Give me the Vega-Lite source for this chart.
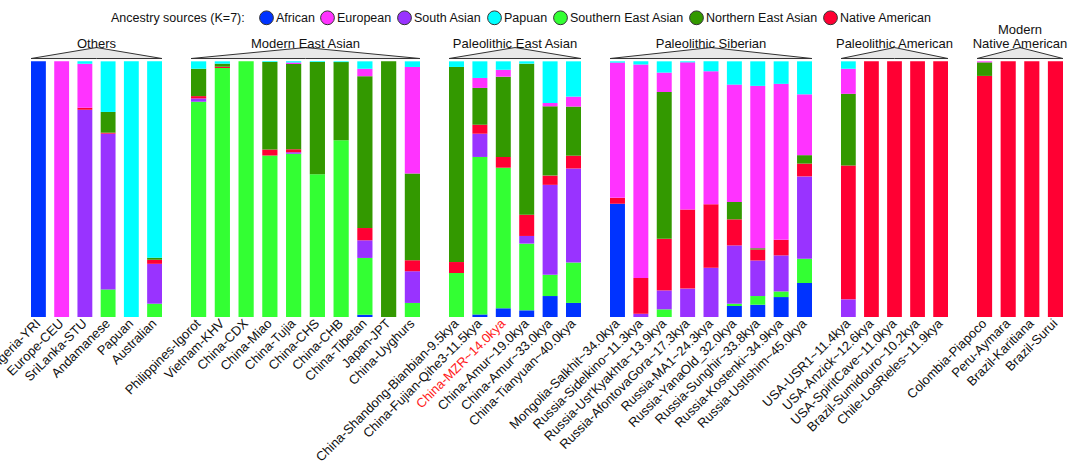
{
  "$schema": "https://vega.github.io/schema/vega-lite/v6.json",
  "padding": {"left": -14, "top": 10, "right": 5, "bottom": 5},
  "background": "white",
  "bounds": "flush",
  "datasets": {
    "tri": [
      {"tx": 0, "ty": 1.011, "base": 1.011},
      {"tx": 0.5, "ty": 1.054, "base": 1.011},
      {"tx": 1, "ty": 1.011, "base": 1.011}
    ],
    "bars": [
      {"group": "Others", "pop": "Nigeria-YRI", "source": "African", "value": 1.0},
      {"group": "Others", "pop": "Europe-CEU", "source": "European", "value": 1.0},
      {"group": "Others", "pop": "SriLanka-STU", "source": "South Asian", "value": 0.811},
      {"group": "Others", "pop": "SriLanka-STU", "source": "Native American", "value": 0.007},
      {"group": "Others", "pop": "SriLanka-STU", "source": "European", "value": 0.173},
      {"group": "Others", "pop": "SriLanka-STU", "source": "Papuan", "value": 0.009},
      {"group": "Others", "pop": "Andamanese", "source": "Southern East Asian", "value": 0.108},
      {"group": "Others", "pop": "Andamanese", "source": "South Asian", "value": 0.609},
      {"group": "Others", "pop": "Andamanese", "source": "Native American", "value": 0.004},
      {"group": "Others", "pop": "Andamanese", "source": "Northern East Asian", "value": 0.081},
      {"group": "Others", "pop": "Andamanese", "source": "Papuan", "value": 0.198},
      {"group": "Others", "pop": "Papuan", "source": "Papuan", "value": 1.0},
      {"group": "Others", "pop": "Australian", "source": "Southern East Asian", "value": 0.052},
      {"group": "Others", "pop": "Australian", "source": "South Asian", "value": 0.156},
      {"group": "Others", "pop": "Australian", "source": "Native American", "value": 0.016},
      {"group": "Others", "pop": "Australian", "source": "Northern East Asian", "value": 0.008},
      {"group": "Others", "pop": "Australian", "source": "Papuan", "value": 0.768},

      {"group": "Modern East Asian", "pop": "Philippines-Igorot", "source": "Southern East Asian", "value": 0.842},
      {"group": "Modern East Asian", "pop": "Philippines-Igorot", "source": "South Asian", "value": 0.013},
      {"group": "Modern East Asian", "pop": "Philippines-Igorot", "source": "Native American", "value": 0.009},
      {"group": "Modern East Asian", "pop": "Philippines-Igorot", "source": "Northern East Asian", "value": 0.107},
      {"group": "Modern East Asian", "pop": "Philippines-Igorot", "source": "Papuan", "value": 0.029},
      {"group": "Modern East Asian", "pop": "Vietnam-KHV", "source": "Southern East Asian", "value": 0.974},
      {"group": "Modern East Asian", "pop": "Vietnam-KHV", "source": "Native American", "value": 0.005},
      {"group": "Modern East Asian", "pop": "Vietnam-KHV", "source": "Northern East Asian", "value": 0.012},
      {"group": "Modern East Asian", "pop": "Vietnam-KHV", "source": "Papuan", "value": 0.009},
      {"group": "Modern East Asian", "pop": "China-CDX", "source": "Southern East Asian", "value": 1.0},
      {"group": "Modern East Asian", "pop": "China-Miao", "source": "Southern East Asian", "value": 0.632},
      {"group": "Modern East Asian", "pop": "China-Miao", "source": "Native American", "value": 0.023},
      {"group": "Modern East Asian", "pop": "China-Miao", "source": "Northern East Asian", "value": 0.342},
      {"group": "Modern East Asian", "pop": "China-Miao", "source": "Papuan", "value": 0.003},
      {"group": "Modern East Asian", "pop": "China-Tujia", "source": "Southern East Asian", "value": 0.639},
      {"group": "Modern East Asian", "pop": "China-Tujia", "source": "South Asian", "value": 0.005},
      {"group": "Modern East Asian", "pop": "China-Tujia", "source": "Native American", "value": 0.012},
      {"group": "Modern East Asian", "pop": "China-Tujia", "source": "Northern East Asian", "value": 0.334},
      {"group": "Modern East Asian", "pop": "China-Tujia", "source": "European", "value": 0.005},
      {"group": "Modern East Asian", "pop": "China-Tujia", "source": "Papuan", "value": 0.005},
      {"group": "Modern East Asian", "pop": "China-CHS", "source": "Southern East Asian", "value": 0.558},
      {"group": "Modern East Asian", "pop": "China-CHS", "source": "Northern East Asian", "value": 0.439},
      {"group": "Modern East Asian", "pop": "China-CHS", "source": "Papuan", "value": 0.003},
      {"group": "Modern East Asian", "pop": "China-CHB", "source": "Southern East Asian", "value": 0.691},
      {"group": "Modern East Asian", "pop": "China-CHB", "source": "Northern East Asian", "value": 0.306},
      {"group": "Modern East Asian", "pop": "China-CHB", "source": "Papuan", "value": 0.003},
      {"group": "Modern East Asian", "pop": "China-Tibetan", "source": "African", "value": 0.009},
      {"group": "Modern East Asian", "pop": "China-Tibetan", "source": "Southern East Asian", "value": 0.222},
      {"group": "Modern East Asian", "pop": "China-Tibetan", "source": "South Asian", "value": 0.069},
      {"group": "Modern East Asian", "pop": "China-Tibetan", "source": "Native American", "value": 0.048},
      {"group": "Modern East Asian", "pop": "China-Tibetan", "source": "Northern East Asian", "value": 0.594},
      {"group": "Modern East Asian", "pop": "China-Tibetan", "source": "European", "value": 0.029},
      {"group": "Modern East Asian", "pop": "China-Tibetan", "source": "Papuan", "value": 0.029},
      {"group": "Modern East Asian", "pop": "Japan-JPT", "source": "Northern East Asian", "value": 1.0},
      {"group": "Modern East Asian", "pop": "China-Uyghurs", "source": "Southern East Asian", "value": 0.055},
      {"group": "Modern East Asian", "pop": "China-Uyghurs", "source": "South Asian", "value": 0.124},
      {"group": "Modern East Asian", "pop": "China-Uyghurs", "source": "Native American", "value": 0.043},
      {"group": "Modern East Asian", "pop": "China-Uyghurs", "source": "Northern East Asian", "value": 0.339},
      {"group": "Modern East Asian", "pop": "China-Uyghurs", "source": "European", "value": 0.417},
      {"group": "Modern East Asian", "pop": "China-Uyghurs", "source": "Papuan", "value": 0.022},

      {"group": "Paleolithic East Asian", "pop": "China-Shandong-Bianbian-9.5kya", "source": "Southern East Asian", "value": 0.172},
      {"group": "Paleolithic East Asian", "pop": "China-Shandong-Bianbian-9.5kya", "source": "Native American", "value": 0.043},
      {"group": "Paleolithic East Asian", "pop": "China-Shandong-Bianbian-9.5kya", "source": "Northern East Asian", "value": 0.763},
      {"group": "Paleolithic East Asian", "pop": "China-Shandong-Bianbian-9.5kya", "source": "Papuan", "value": 0.022},
      {"group": "Paleolithic East Asian", "pop": "China-Fujian-Qihe3-11.5kya", "source": "African", "value": 0.01},
      {"group": "Paleolithic East Asian", "pop": "China-Fujian-Qihe3-11.5kya", "source": "Southern East Asian", "value": 0.616},
      {"group": "Paleolithic East Asian", "pop": "China-Fujian-Qihe3-11.5kya", "source": "South Asian", "value": 0.091},
      {"group": "Paleolithic East Asian", "pop": "China-Fujian-Qihe3-11.5kya", "source": "Native American", "value": 0.035},
      {"group": "Paleolithic East Asian", "pop": "China-Fujian-Qihe3-11.5kya", "source": "Northern East Asian", "value": 0.144},
      {"group": "Paleolithic East Asian", "pop": "China-Fujian-Qihe3-11.5kya", "source": "European", "value": 0.039},
      {"group": "Paleolithic East Asian", "pop": "China-Fujian-Qihe3-11.5kya", "source": "Papuan", "value": 0.065},
      {"group": "Paleolithic East Asian", "pop": "China-MZR~14.0kya", "source": "African", "value": 0.034},
      {"group": "Paleolithic East Asian", "pop": "China-MZR~14.0kya", "source": "Southern East Asian", "value": 0.55},
      {"group": "Paleolithic East Asian", "pop": "China-MZR~14.0kya", "source": "Native American", "value": 0.042},
      {"group": "Paleolithic East Asian", "pop": "China-MZR~14.0kya", "source": "Northern East Asian", "value": 0.314},
      {"group": "Paleolithic East Asian", "pop": "China-MZR~14.0kya", "source": "European", "value": 0.027},
      {"group": "Paleolithic East Asian", "pop": "China-MZR~14.0kya", "source": "Papuan", "value": 0.033},
      {"group": "Paleolithic East Asian", "pop": "China-Amur~19.0kya", "source": "African", "value": 0.026},
      {"group": "Paleolithic East Asian", "pop": "China-Amur~19.0kya", "source": "Southern East Asian", "value": 0.261},
      {"group": "Paleolithic East Asian", "pop": "China-Amur~19.0kya", "source": "South Asian", "value": 0.03},
      {"group": "Paleolithic East Asian", "pop": "China-Amur~19.0kya", "source": "Native American", "value": 0.083},
      {"group": "Paleolithic East Asian", "pop": "China-Amur~19.0kya", "source": "Northern East Asian", "value": 0.591},
      {"group": "Paleolithic East Asian", "pop": "China-Amur~19.0kya", "source": "Papuan", "value": 0.009},
      {"group": "Paleolithic East Asian", "pop": "China-Amur~33.0kya", "source": "African", "value": 0.082},
      {"group": "Paleolithic East Asian", "pop": "China-Amur~33.0kya", "source": "Southern East Asian", "value": 0.083},
      {"group": "Paleolithic East Asian", "pop": "China-Amur~33.0kya", "source": "South Asian", "value": 0.352},
      {"group": "Paleolithic East Asian", "pop": "China-Amur~33.0kya", "source": "Native American", "value": 0.036},
      {"group": "Paleolithic East Asian", "pop": "China-Amur~33.0kya", "source": "Northern East Asian", "value": 0.271},
      {"group": "Paleolithic East Asian", "pop": "China-Amur~33.0kya", "source": "European", "value": 0.013},
      {"group": "Paleolithic East Asian", "pop": "China-Amur~33.0kya", "source": "Papuan", "value": 0.163},
      {"group": "Paleolithic East Asian", "pop": "China-Tianyuan~40.0kya", "source": "African", "value": 0.055},
      {"group": "Paleolithic East Asian", "pop": "China-Tianyuan~40.0kya", "source": "Southern East Asian", "value": 0.158},
      {"group": "Paleolithic East Asian", "pop": "China-Tianyuan~40.0kya", "source": "South Asian", "value": 0.368},
      {"group": "Paleolithic East Asian", "pop": "China-Tianyuan~40.0kya", "source": "Native American", "value": 0.05},
      {"group": "Paleolithic East Asian", "pop": "China-Tianyuan~40.0kya", "source": "Northern East Asian", "value": 0.192},
      {"group": "Paleolithic East Asian", "pop": "China-Tianyuan~40.0kya", "source": "European", "value": 0.039},
      {"group": "Paleolithic East Asian", "pop": "China-Tianyuan~40.0kya", "source": "Papuan", "value": 0.138},

      {"group": "Paleolithic Siberian", "pop": "Mongolia-Salkhit~34.0kya", "source": "African", "value": 0.443},
      {"group": "Paleolithic Siberian", "pop": "Mongolia-Salkhit~34.0kya", "source": "Native American", "value": 0.023},
      {"group": "Paleolithic Siberian", "pop": "Mongolia-Salkhit~34.0kya", "source": "European", "value": 0.529},
      {"group": "Paleolithic Siberian", "pop": "Mongolia-Salkhit~34.0kya", "source": "Papuan", "value": 0.005},
      {"group": "Paleolithic Siberian", "pop": "Russia-Sidelkino~11.3kya", "source": "South Asian", "value": 0.013},
      {"group": "Paleolithic Siberian", "pop": "Russia-Sidelkino~11.3kya", "source": "Native American", "value": 0.14},
      {"group": "Paleolithic Siberian", "pop": "Russia-Sidelkino~11.3kya", "source": "European", "value": 0.835},
      {"group": "Paleolithic Siberian", "pop": "Russia-Sidelkino~11.3kya", "source": "Papuan", "value": 0.012},
      {"group": "Paleolithic Siberian", "pop": "Russia-Ust'Kyakhta~13.9kya", "source": "Southern East Asian", "value": 0.03},
      {"group": "Paleolithic Siberian", "pop": "Russia-Ust'Kyakhta~13.9kya", "source": "South Asian", "value": 0.074},
      {"group": "Paleolithic Siberian", "pop": "Russia-Ust'Kyakhta~13.9kya", "source": "Native American", "value": 0.202},
      {"group": "Paleolithic Siberian", "pop": "Russia-Ust'Kyakhta~13.9kya", "source": "Northern East Asian", "value": 0.574},
      {"group": "Paleolithic Siberian", "pop": "Russia-Ust'Kyakhta~13.9kya", "source": "European", "value": 0.076},
      {"group": "Paleolithic Siberian", "pop": "Russia-Ust'Kyakhta~13.9kya", "source": "Papuan", "value": 0.044},
      {"group": "Paleolithic Siberian", "pop": "Russia-AfontovaGora~17.3kya", "source": "South Asian", "value": 0.111},
      {"group": "Paleolithic Siberian", "pop": "Russia-AfontovaGora~17.3kya", "source": "Native American", "value": 0.309},
      {"group": "Paleolithic Siberian", "pop": "Russia-AfontovaGora~17.3kya", "source": "European", "value": 0.576},
      {"group": "Paleolithic Siberian", "pop": "Russia-AfontovaGora~17.3kya", "source": "Papuan", "value": 0.004},
      {"group": "Paleolithic Siberian", "pop": "Russia-MA1~24.3kya", "source": "South Asian", "value": 0.193},
      {"group": "Paleolithic Siberian", "pop": "Russia-MA1~24.3kya", "source": "Native American", "value": 0.248},
      {"group": "Paleolithic Siberian", "pop": "Russia-MA1~24.3kya", "source": "European", "value": 0.52},
      {"group": "Paleolithic Siberian", "pop": "Russia-MA1~24.3kya", "source": "Papuan", "value": 0.039},
      {"group": "Paleolithic Siberian", "pop": "Russia-YanaOld_32.0kya", "source": "African", "value": 0.043},
      {"group": "Paleolithic Siberian", "pop": "Russia-YanaOld_32.0kya", "source": "Southern East Asian", "value": 0.009},
      {"group": "Paleolithic Siberian", "pop": "Russia-YanaOld_32.0kya", "source": "South Asian", "value": 0.228},
      {"group": "Paleolithic Siberian", "pop": "Russia-YanaOld_32.0kya", "source": "Native American", "value": 0.102},
      {"group": "Paleolithic Siberian", "pop": "Russia-YanaOld_32.0kya", "source": "Northern East Asian", "value": 0.068},
      {"group": "Paleolithic Siberian", "pop": "Russia-YanaOld_32.0kya", "source": "European", "value": 0.459},
      {"group": "Paleolithic Siberian", "pop": "Russia-YanaOld_32.0kya", "source": "Papuan", "value": 0.091},
      {"group": "Paleolithic Siberian", "pop": "Russia-Sunghir~33.8kya", "source": "African", "value": 0.048},
      {"group": "Paleolithic Siberian", "pop": "Russia-Sunghir~33.8kya", "source": "Southern East Asian", "value": 0.034},
      {"group": "Paleolithic Siberian", "pop": "Russia-Sunghir~33.8kya", "source": "South Asian", "value": 0.139},
      {"group": "Paleolithic Siberian", "pop": "Russia-Sunghir~33.8kya", "source": "Native American", "value": 0.043},
      {"group": "Paleolithic Siberian", "pop": "Russia-Sunghir~33.8kya", "source": "Northern East Asian", "value": 0.005},
      {"group": "Paleolithic Siberian", "pop": "Russia-Sunghir~33.8kya", "source": "European", "value": 0.635},
      {"group": "Paleolithic Siberian", "pop": "Russia-Sunghir~33.8kya", "source": "Papuan", "value": 0.096},
      {"group": "Paleolithic Siberian", "pop": "Russia-Kostenki~34.9kya", "source": "African", "value": 0.078},
      {"group": "Paleolithic Siberian", "pop": "Russia-Kostenki~34.9kya", "source": "Southern East Asian", "value": 0.022},
      {"group": "Paleolithic Siberian", "pop": "Russia-Kostenki~34.9kya", "source": "South Asian", "value": 0.141},
      {"group": "Paleolithic Siberian", "pop": "Russia-Kostenki~34.9kya", "source": "Native American", "value": 0.061},
      {"group": "Paleolithic Siberian", "pop": "Russia-Kostenki~34.9kya", "source": "European", "value": 0.61},
      {"group": "Paleolithic Siberian", "pop": "Russia-Kostenki~34.9kya", "source": "Papuan", "value": 0.088},
      {"group": "Paleolithic Siberian", "pop": "Russia-UstIshim~45.0kya", "source": "African", "value": 0.133},
      {"group": "Paleolithic Siberian", "pop": "Russia-UstIshim~45.0kya", "source": "Southern East Asian", "value": 0.095},
      {"group": "Paleolithic Siberian", "pop": "Russia-UstIshim~45.0kya", "source": "South Asian", "value": 0.322},
      {"group": "Paleolithic Siberian", "pop": "Russia-UstIshim~45.0kya", "source": "Native American", "value": 0.05},
      {"group": "Paleolithic Siberian", "pop": "Russia-UstIshim~45.0kya", "source": "Northern East Asian", "value": 0.033},
      {"group": "Paleolithic Siberian", "pop": "Russia-UstIshim~45.0kya", "source": "European", "value": 0.238},
      {"group": "Paleolithic Siberian", "pop": "Russia-UstIshim~45.0kya", "source": "Papuan", "value": 0.129},

      {"group": "Paleolithic American", "pop": "USA-USR1~11.4kya", "source": "South Asian", "value": 0.069},
      {"group": "Paleolithic American", "pop": "USA-USR1~11.4kya", "source": "Native American", "value": 0.524},
      {"group": "Paleolithic American", "pop": "USA-USR1~11.4kya", "source": "Northern East Asian", "value": 0.28},
      {"group": "Paleolithic American", "pop": "USA-USR1~11.4kya", "source": "European", "value": 0.098},
      {"group": "Paleolithic American", "pop": "USA-USR1~11.4kya", "source": "Papuan", "value": 0.029},
      {"group": "Paleolithic American", "pop": "USA-Anzick~12.6kya", "source": "Native American", "value": 1.0},
      {"group": "Paleolithic American", "pop": "USA-SpiritCave~11.0kya", "source": "Native American", "value": 1.0},
      {"group": "Paleolithic American", "pop": "Brazil-Sumidouro~10.2kya", "source": "Native American", "value": 1.0},
      {"group": "Paleolithic American", "pop": "Chile-LosRieles~11.9kya", "source": "Native American", "value": 1.0},

      {"group": "Modern Native American", "pop": "Colombia-Piapoco", "source": "Native American", "value": 0.943},
      {"group": "Modern Native American", "pop": "Colombia-Piapoco", "source": "Northern East Asian", "value": 0.053},
      {"group": "Modern Native American", "pop": "Colombia-Piapoco", "source": "European", "value": 0.004},
      {"group": "Modern Native American", "pop": "Peru-Aymara", "source": "Native American", "value": 1.0},
      {"group": "Modern Native American", "pop": "Brazil-Karitiana", "source": "Native American", "value": 1.0},
      {"group": "Modern Native American", "pop": "Brazil-Surui", "source": "Native American", "value": 1.0}
    ]
  },
  "spacing": 29,
  "hconcat": [
    {
      "width": 131, "height": 271,
      "title": "Others",
      "layer": [
        {
          "data": {"name": "bars"},
          "transform": [
            {"filter": "datum.group == 'Others'"},
            {"calculate": "indexof(['African','Southern East Asian','South Asian','Native American','Northern East Asian','European','Papuan'], datum.source)", "as": "ord"}
          ],
          "mark": {"type": "bar"},
          "encoding": {
            "x": {"field": "pop", "type": "nominal", "sort": ["Nigeria-YRI", "Europe-CEU", "SriLanka-STU", "Andamanese", "Papuan", "Australian"], "scale": {"paddingInner": 0.36, "paddingOuter": 0}, "axis": {"title": null}},
            "y": {"field": "value", "type": "quantitative", "stack": "zero", "scale": {"domain": [0, 1.06], "nice": false, "zero": true}, "axis": null},
            "color": {
              "field": "source", "type": "nominal",
              "scale": {"domain": ["African", "European", "South Asian", "Papuan", "Southern East Asian", "Northern East Asian", "Native American"], "range": ["#0033ff", "#ff33ff", "#9933ff", "#00ffff", "#33ff33", "#339900", "#ff0033"]},
              "legend": {"title": "Ancestry sources (K=7):", "orient": "none", "legendX": 80, "legendY": -36, "direction": "horizontal", "titleOrient": "left"}
            },
            "order": {"field": "ord", "type": "quantitative"}
          }
        },
        {
          "data": {"name": "tri"},
          "mark": {"type": "area", "fill": "#e8e8e8", "stroke": "#333333", "strokeWidth": 1},
          "encoding": {
            "x": {"field": "tx", "type": "quantitative", "scale": {"domain": [0, 1], "nice": false, "zero": false}, "axis": null},
            "y": {"field": "ty", "type": "quantitative", "scale": {"domain": [0, 1.06], "nice": false}, "axis": null},
            "y2": {"field": "base"}
          }
        }
      ],
      "resolve": {"scale": {"x": "independent"}}
    },
    {
      "width": 229, "height": 271,
      "title": "Modern East Asian",
      "layer": [
        {
          "data": {"name": "bars"},
          "transform": [
            {"filter": "datum.group == 'Modern East Asian'"},
            {"calculate": "indexof(['African','Southern East Asian','South Asian','Native American','Northern East Asian','European','Papuan'], datum.source)", "as": "ord"}
          ],
          "mark": {"type": "bar"},
          "encoding": {
            "x": {"field": "pop", "type": "nominal", "sort": ["Philippines-Igorot", "Vietnam-KHV", "China-CDX", "China-Miao", "China-Tujia", "China-CHS", "China-CHB", "China-Tibetan", "Japan-JPT", "China-Uyghurs"], "scale": {"paddingInner": 0.36, "paddingOuter": 0}, "axis": {"title": null}},
            "y": {"field": "value", "type": "quantitative", "stack": "zero", "scale": {"domain": [0, 1.06], "nice": false}, "axis": null},
            "color": {"field": "source", "type": "nominal"},
            "order": {"field": "ord", "type": "quantitative"}
          }
        },
        {
          "data": {"name": "tri"},
          "mark": {"type": "area", "fill": "#e8e8e8", "stroke": "#333333", "strokeWidth": 1},
          "encoding": {
            "x": {"field": "tx", "type": "quantitative", "scale": {"domain": [0, 1], "nice": false, "zero": false}, "axis": null},
            "y": {"field": "ty", "type": "quantitative", "scale": {"domain": [0, 1.06], "nice": false}, "axis": null},
            "y2": {"field": "base"}
          }
        }
      ],
      "resolve": {"scale": {"x": "independent"}}
    },
    {
      "width": 132, "height": 271,
      "title": "Paleolithic East Asian",
      "layer": [
        {
          "data": {"name": "bars"},
          "transform": [
            {"filter": "datum.group == 'Paleolithic East Asian'"},
            {"calculate": "indexof(['African','Southern East Asian','South Asian','Native American','Northern East Asian','European','Papuan'], datum.source)", "as": "ord"}
          ],
          "mark": {"type": "bar"},
          "encoding": {
            "x": {"field": "pop", "type": "nominal", "sort": ["China-Shandong-Bianbian-9.5kya", "China-Fujian-Qihe3-11.5kya", "China-MZR~14.0kya", "China-Amur~19.0kya", "China-Amur~33.0kya", "China-Tianyuan~40.0kya"], "scale": {"paddingInner": 0.36, "paddingOuter": 0},
              "axis": {"title": null, "labelColor": {"condition": {"test": "datum.value == 'China-MZR~14.0kya'", "value": "#ff1a1a"}, "value": "#111111"}}},
            "y": {"field": "value", "type": "quantitative", "stack": "zero", "scale": {"domain": [0, 1.06], "nice": false}, "axis": null},
            "color": {"field": "source", "type": "nominal"},
            "order": {"field": "ord", "type": "quantitative"}
          }
        },
        {
          "data": {"name": "tri"},
          "mark": {"type": "area", "fill": "#e8e8e8", "stroke": "#333333", "strokeWidth": 1},
          "encoding": {
            "x": {"field": "tx", "type": "quantitative", "scale": {"domain": [0, 1], "nice": false, "zero": false}, "axis": null},
            "y": {"field": "ty", "type": "quantitative", "scale": {"domain": [0, 1.06], "nice": false}, "axis": null},
            "y2": {"field": "base"}
          }
        }
      ],
      "resolve": {"scale": {"x": "independent"}}
    },
    {
      "width": 202, "height": 271,
      "title": "Paleolithic Siberian",
      "layer": [
        {
          "data": {"name": "bars"},
          "transform": [
            {"filter": "datum.group == 'Paleolithic Siberian'"},
            {"calculate": "indexof(['African','Southern East Asian','South Asian','Native American','Northern East Asian','European','Papuan'], datum.source)", "as": "ord"}
          ],
          "mark": {"type": "bar"},
          "encoding": {
            "x": {"field": "pop", "type": "nominal", "sort": ["Mongolia-Salkhit~34.0kya", "Russia-Sidelkino~11.3kya", "Russia-Ust'Kyakhta~13.9kya", "Russia-AfontovaGora~17.3kya", "Russia-MA1~24.3kya", "Russia-YanaOld_32.0kya", "Russia-Sunghir~33.8kya", "Russia-Kostenki~34.9kya", "Russia-UstIshim~45.0kya"], "scale": {"paddingInner": 0.36, "paddingOuter": 0}, "axis": {"title": null}},
            "y": {"field": "value", "type": "quantitative", "stack": "zero", "scale": {"domain": [0, 1.06], "nice": false}, "axis": null},
            "color": {"field": "source", "type": "nominal"},
            "order": {"field": "ord", "type": "quantitative"}
          }
        },
        {
          "data": {"name": "tri"},
          "mark": {"type": "area", "fill": "#e8e8e8", "stroke": "#333333", "strokeWidth": 1},
          "encoding": {
            "x": {"field": "tx", "type": "quantitative", "scale": {"domain": [0, 1], "nice": false, "zero": false}, "axis": null},
            "y": {"field": "ty", "type": "quantitative", "scale": {"domain": [0, 1.06], "nice": false}, "axis": null},
            "y2": {"field": "base"}
          }
        }
      ],
      "resolve": {"scale": {"x": "independent"}}
    },
    {
      "width": 107, "height": 271,
      "title": "Paleolithic American",
      "layer": [
        {
          "data": {"name": "bars"},
          "transform": [
            {"filter": "datum.group == 'Paleolithic American'"},
            {"calculate": "indexof(['African','Southern East Asian','South Asian','Native American','Northern East Asian','European','Papuan'], datum.source)", "as": "ord"}
          ],
          "mark": {"type": "bar"},
          "encoding": {
            "x": {"field": "pop", "type": "nominal", "sort": ["USA-USR1~11.4kya", "USA-Anzick~12.6kya", "USA-SpiritCave~11.0kya", "Brazil-Sumidouro~10.2kya", "Chile-LosRieles~11.9kya"], "scale": {"paddingInner": 0.36, "paddingOuter": 0}, "axis": {"title": null}},
            "y": {"field": "value", "type": "quantitative", "stack": "zero", "scale": {"domain": [0, 1.06], "nice": false}, "axis": null},
            "color": {"field": "source", "type": "nominal"},
            "order": {"field": "ord", "type": "quantitative"}
          }
        },
        {
          "data": {"name": "tri"},
          "mark": {"type": "area", "fill": "#e8e8e8", "stroke": "#333333", "strokeWidth": 1},
          "encoding": {
            "x": {"field": "tx", "type": "quantitative", "scale": {"domain": [0, 1], "nice": false, "zero": false}, "axis": null},
            "y": {"field": "ty", "type": "quantitative", "scale": {"domain": [0, 1.06], "nice": false}, "axis": null},
            "y2": {"field": "base"}
          }
        }
      ],
      "resolve": {"scale": {"x": "independent"}}
    },
    {
      "width": 86, "height": 271,
      "title": {"text": ["Modern", "Native American"]},
      "layer": [
        {
          "data": {"name": "bars"},
          "transform": [
            {"filter": "datum.group == 'Modern Native American'"},
            {"calculate": "indexof(['African','Southern East Asian','South Asian','Native American','Northern East Asian','European','Papuan'], datum.source)", "as": "ord"}
          ],
          "mark": {"type": "bar"},
          "encoding": {
            "x": {"field": "pop", "type": "nominal", "sort": ["Colombia-Piapoco", "Peru-Aymara", "Brazil-Karitiana", "Brazil-Surui"], "scale": {"paddingInner": 0.36, "paddingOuter": 0}, "axis": {"title": null}},
            "y": {"field": "value", "type": "quantitative", "stack": "zero", "scale": {"domain": [0, 1.06], "nice": false}, "axis": null},
            "color": {"field": "source", "type": "nominal"},
            "order": {"field": "ord", "type": "quantitative"}
          }
        },
        {
          "data": {"name": "tri"},
          "mark": {"type": "area", "fill": "#e8e8e8", "stroke": "#333333", "strokeWidth": 1},
          "encoding": {
            "x": {"field": "tx", "type": "quantitative", "scale": {"domain": [0, 1], "nice": false, "zero": false}, "axis": null},
            "y": {"field": "ty", "type": "quantitative", "scale": {"domain": [0, 1.06], "nice": false}, "axis": null},
            "y2": {"field": "base"}
          }
        }
      ],
      "resolve": {"scale": {"x": "independent"}}
    }
  ],
  "config": {
    "font": "Liberation Sans",
    "view": {"stroke": null},
    "title": {"fontSize": 13, "fontWeight": "normal", "color": "#111111", "anchor": "middle", "baseline": "bottom", "offset": -5, "lineHeight": 14},
    "axisX": {
      "labelAngle": -45, "labelAlign": "right", "labelBaseline": "middle", "ticks": false, "domain": false,
      "labelPadding": 4, "labelFontSize": 13, "labelColor": "#111111", "labelLimit": 400, "labelOverlap": false, "labelBound": false, "grid": false
    },
    "legend": {
      "symbolType": "circle", "symbolSize": 190, "symbolStrokeColor": "#333333", "symbolStrokeWidth": 1,
      "labelFontSize": 12.5, "titleFontSize": 12.5, "titleFontWeight": "normal", "titleColor": "#111111", "labelColor": "#111111",
      "columnPadding": 3, "labelOffset": 2, "titlePadding": 14, "titleBaseline": "middle"
    }
  }
}
